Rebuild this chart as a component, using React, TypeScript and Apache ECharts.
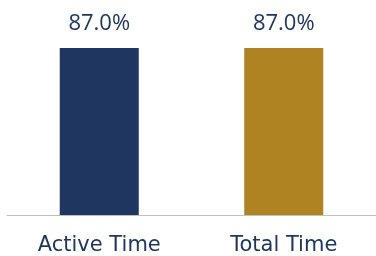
import React, { useEffect, useRef } from "react";
import * as echarts from "echarts";

const categories = ["Active Time", "Total Time"];
const values = [87.0, 87.0];
const barColors = ["#1F3660", "#AF8321"];

export default function App() {
  const ref = useRef<HTMLDivElement>(null);
  useEffect(() => {
    if (!ref.current) return;
    const chart = echarts.init(ref.current, undefined, { renderer: "svg" });
    chart.setOption({
      animation: false,
      grid: { left: 7, width: 374, top: 23, bottom: 41, containLabel: false },
      xAxis: {
        type: "category",
        data: categories,
        axisTick: { show: false },
        axisLine: { lineStyle: { color: "#BFBFBF", width: 1 } },
        axisLabel: {
          color: "#1F3660",
          fontFamily: "DejaVu Sans",
          fontSize: 21,
          margin: 18,
        },
      },
      yAxis: {
        type: "value",
        min: 0,
        max: 100,
        show: false,
        splitLine: { show: false },
      },
      series: [
        {
          type: "bar",
          data: values.map((v, i) => ({ value: v, itemStyle: { color: barColors[i] } })),
          barWidth: 79,
          label: {
            show: true,
            position: "top",
            distance: 16,
            formatter: (p: any) => p.value.toFixed(1) + "%",
            color: "#1F3660",
            fontFamily: "Open Sans",
            fontSize: 22,
          },
        },
      ],
    });
    return () => chart.dispose();
  }, []);
  return <div ref={ref} style={{ width: 376, height: 256, position: "fixed", left: 0, top: 0 }} />;
}
